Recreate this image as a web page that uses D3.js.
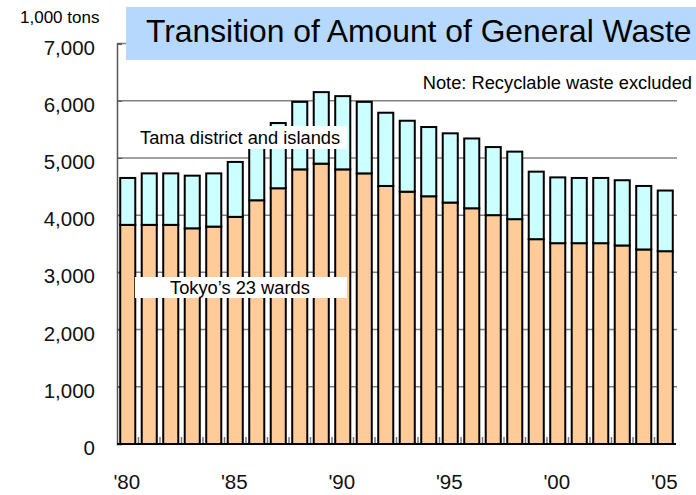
<!DOCTYPE html>
<html><head><meta charset="utf-8">
<script src="https://cdn.jsdelivr.net/npm/d3@7"></script>
<style>body{margin:0;background:#fff;}svg{display:block;font-family:"Liberation Sans",Arial,sans-serif;}</style>
</head><body>
<script>
const years = d3.range(1980, 2006);
const wards = [3830,3830,3830,3770,3800,3970,4260,4470,4800,4900,4800,4730,4510,4410,4330,4220,4120,4000,3930,3580,3510,3510,3510,3470,3400,3370];
const tama  = [820,900,900,920,930,960,1040,1140,1180,1250,1280,1250,1280,1240,1210,1210,1220,1190,1180,1180,1150,1140,1140,1140,1110,1060];
const yTicks = [0,1000,2000,3000,4000,5000,6000,7000];
const xLabels = {1980:"'80",1985:"'85",1990:"'90",1995:"'95",2000:"'00",2005:"'05"};
const title = "Transition of Amount of General Waste";
const unit = "1,000 tons";
const note = "Note: Recyclable waste excluded";
const seriesNames = ["Tokyo\u2019s 23 wards","Tama district and islands"];

const W=696,H=495;
const svg=d3.select("body").append("svg").attr("width",W).attr("height",H);
const x=d3.scaleBand().domain(years).range([117,676]).paddingInner(0.3).paddingOuter(0.15);
const y=d3.scaleLinear().domain([0,7000]).range([444,43.5]);

// gridlines
svg.append("g").selectAll("line").data(yTicks.filter(d=>d>0)).join("line")
  .attr("x1",117).attr("x2",677).attr("y1",d=>y(d)).attr("y2",d=>y(d))
  .attr("stroke","#808080").attr("stroke-width",1.5);

// y axis
const ya=svg.append("g").attr("transform","translate(117,0)")
  .call(d3.axisRight(y).tickValues(yTicks).tickSize(5).tickFormat(""));
ya.select(".domain").attr("stroke","#555").attr("stroke-width",1.5);
ya.selectAll(".tick line").attr("stroke","#555").attr("stroke-width",1.2);

svg.append("g").selectAll("text").data(yTicks).join("text")
  .attr("x",95).attr("y",d=>y(d)+11).attr("text-anchor","end")
  .attr("font-size",20.5).attr("fill","#111").text(d=>d3.format(",")(d));

// category ticks
svg.append("g").selectAll("line").data(years.slice(1)).join("line")
  .attr("x1",d=>x(d)-x.step()*0.15).attr("x2",d=>x(d)-x.step()*0.15)
  .attr("y1",444).attr("y2",437).attr("stroke","#777").attr("stroke-width",1.5);

// bars
const stack=d3.stack().keys(["w","t"])(years.map((yr,i)=>({yr,w:wards[i],t:tama[i]})));
const fills=["#ffcc99","#ccffff"];
stack.forEach((s,k)=>{
  svg.append("g").selectAll("rect").data(s).join("rect")
    .attr("x",d=>x(d.data.yr)).attr("width",x.bandwidth())
    .attr("y",d=>y(d[1])).attr("height",d=>y(d[0])-y(d[1]))
    .attr("fill",fills[k]).attr("stroke","#000").attr("stroke-width",2);
});

// x axis line
svg.append("line").attr("x1",117).attr("x2",676).attr("y1",444).attr("y2",444)
  .attr("stroke","#000").attr("stroke-width",2);

// x labels
svg.append("g").selectAll("text").data(years.filter(d=>xLabels[d])).join("text")
  .attr("x",d=>x(d)+x.bandwidth()/2-1).attr("y",489).attr("text-anchor","middle")
  .attr("font-size",20.5).attr("fill","#111").text(d=>xLabels[d]);

// title box
svg.append("rect").attr("x",126).attr("y",7).attr("width",W-126).attr("height",53).attr("fill","#b5d8fc");
svg.append("text").attr("x",146).attr("y",42).attr("font-size",31.8).attr("fill","#000").text(title);
svg.append("text").attr("x",20).attr("y",23).attr("font-size",17).attr("fill","#000").text(unit);
svg.append("text").attr("x",692).attr("y",89).attr("text-anchor","end").attr("font-size",18.3).attr("fill","#000").text(note);

// series labels
svg.append("rect").attr("x",134).attr("y",126).attr("width",213).attr("height",23).attr("fill","#fff");
svg.append("text").attr("x",140).attr("y",144).attr("font-size",18.3).attr("fill","#000").text(seriesNames[1]);
svg.append("rect").attr("x",135).attr("y",277).attr("width",212).attr("height",21).attr("fill","#fff");
svg.append("text").attr("x",170).attr("y",294).attr("font-size",18.3).attr("fill","#000").text(seriesNames[0]);
</script>
</body></html>
